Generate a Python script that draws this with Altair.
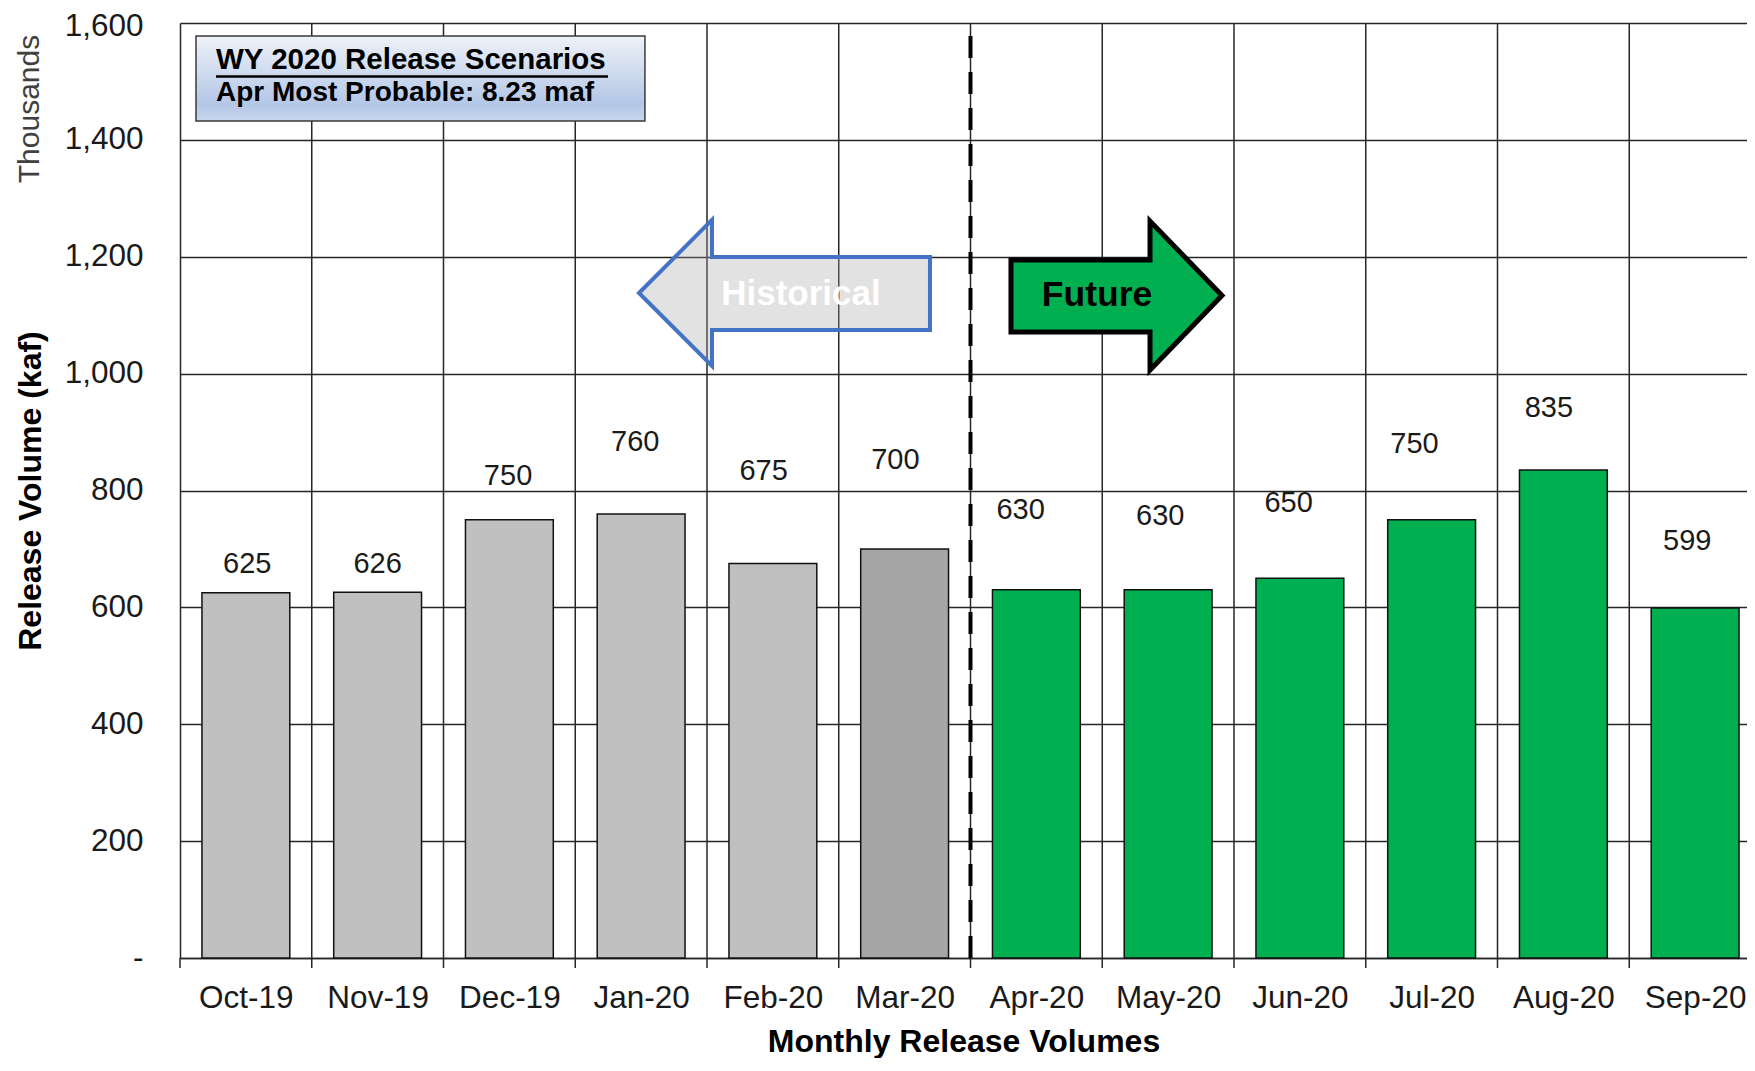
import json
import altair as alt
import pandas as pd

# ---------------- data ----------------
months = ["Oct-19", "Nov-19", "Dec-19", "Jan-20", "Feb-20", "Mar-20",
          "Apr-20", "May-20", "Jun-20", "Jul-20", "Aug-20", "Sep-20"]
volumes = [625, 626, 750, 760, 675, 700, 630, 630, 650, 750, 835, 599]
status = ["Historical"] * 5 + ["Current"] + ["Future"] * 6
# data-label placement as in the source (kaf height, shift in category widths)
label_kaf = [674, 674, 825, 883, 833, 852, 766, 756, 779, 879, 942, 714]
label_shift = [0.01, 0.0, -0.01, -0.045, -0.07, -0.07, -0.12, -0.06, -0.085, -0.13, -0.11, -0.06]
y_ticks = [0, 200, 400, 600, 800, 1000, 1200, 1400, 1600]
box_title = "WY 2020 Release Scenarios"
box_sub = "Apr Most Probable: 8.23 maf"

# ---------------- layout ----------------
PX_PER_CAT = 131.75
PLOT_W = 1567
PLOT_H = 935
X_MAX = PLOT_W / PX_PER_CAT

SANS = "Liberation Sans, Arial, Helvetica"
INK = "#1a1a1a"
GRID = "#262626"

df = pd.DataFrame({"month": months, "kaf": volumes, "status": status,
                   "label_kaf": label_kaf, "shift": label_shift})
df["idx"] = list(range(len(months)))

xs = alt.Scale(domain=[0, X_MAX], nice=False, zero=False)
ys = alt.Scale(domain=[0, 1600], nice=False, zero=True)

x_axis = alt.Axis(
    values=[i + 0.5 for i in range(len(months))],
    labelExpr=f"{json.dumps(months)}[floor(datum.value)]",
    grid=False, ticks=False, tickSize=0, domain=True, domainColor=GRID, domainWidth=1.5,
    labelFont=SANS, labelFontSize=31.5, labelColor=INK, labelPadding=49,
    labelBaseline="alphabetic", labelFlush=False, labelOverlap=False,
    title="Monthly Release Volumes", titleFont=SANS, titleFontSize=32,
    titleFontWeight="bold", titleColor="#000", titleY=93, titleBaseline="alphabetic",
)
y_axis = alt.Axis(
    values=y_ticks,
    labelExpr="datum.value == 0 ? '-' : format(datum.value, ',')",
    grid=True, gridColor=GRID, gridWidth=1.5, ticks=False, tickSize=0,
    domain=True, domainColor=GRID, domainWidth=1.5,
    labelFont=SANS, labelFontSize=31.5, labelColor=INK, labelPadding=37,
    labelOverlap=False,
    labelOffset=alt.condition(f"datum.value == {max(y_ticks)}", alt.value(3), alt.value(0)),
    title="Release Volume (kaf)", titleFont=SANS, titleFontSize=32,
    titleFontWeight="bold", titleColor="#000", titleX=-150, titleY=PLOT_H / 2,
    titleAngle=270, titleBaseline="middle", titleAlign="center",
)


def X(f):
    return alt.X(f, type="quantitative", scale=xs, axis=x_axis)


def Y(f):
    return alt.Y(f, type="quantitative", scale=ys, axis=y_axis)


# vertical gridlines at category boundaries
bounds = pd.DataFrame({"b": list(range(1, len(months)))})
vgrid = alt.Chart(bounds).mark_rule(color=GRID, strokeWidth=1.5).encode(
    x=X("b"), y=alt.datum(0), y2=alt.datum(1600))

bars = alt.Chart(df).transform_calculate(
    x0="datum.idx + 1/6", x1="datum.idx + 5/6"
).mark_rect(stroke="#111", strokeWidth=1.5).encode(
    x=X("x0"),
    x2="x1:Q",
    y=Y("kaf"),
    y2=alt.datum(0),
    color=alt.Color("status:N", legend=None,
                    scale=alt.Scale(domain=["Historical", "Current", "Future"],
                                    range=["#C0C0C0", "#A6A6A6", "#00B050"])),
)

split = pd.DataFrame({"b": [status.index("Future")]})
dash = alt.Chart(split).mark_rule(color="#000", strokeWidth=4, strokeDash=[22, 14]).encode(
    x=X("b"), y=alt.datum(0), y2=alt.datum(1600))

ticks = alt.Chart(pd.DataFrame({"b": list(range(len(months)))})).mark_rule(
    color=GRID, strokeWidth=1.5).encode(
    x=X("b"), y=alt.value(PLOT_H), y2=alt.value(PLOT_H + 10))

# arrows
HIST_PATH = "M -1 0 L -0.498 -0.502 L -0.498 -0.247 L 1 -0.247 L 1 0.254 L -0.498 0.254 L -0.498 0.502 Z"
FUT_PATH = "M -1 -0.336 L 0.318 -0.336 L 0.318 -0.706 L 1 0 L 0.318 0.706 L 0.318 0.346 L -1 0.346 Z"

hist_arrow = alt.Chart(pd.DataFrame({"x": [4.588], "y": [1138]})).mark_point(
    shape=HIST_PATH, size=291 ** 2, filled=True, fill="#A6A6A6", fillOpacity=0.32,
    stroke="#4472C4", strokeOpacity=1, strokeWidth=4, opacity=1, strokeJoin="miter"
).encode(x=X("x"), y=Y("y"))
hist_text = alt.Chart(pd.DataFrame({"x": [4.713], "y": [1136.5], "t": ["Historical"]})).mark_text(
    font=SANS, fontSize=35, fontWeight="bold", color="#ffffff", align="center", baseline="middle"
).encode(x=X("x"), y=Y("y"), text="t:N")

fut_arrow = alt.Chart(pd.DataFrame({"x": [7.108], "y": [1133.6]})).mark_point(
    shape=FUT_PATH, size=211 ** 2, filled=True, fill="#00B050", fillOpacity=1,
    stroke="#000000", strokeOpacity=1, strokeWidth=5, opacity=1, strokeJoin="miter"
).encode(x=X("x"), y=Y("y"))
fut_text = alt.Chart(pd.DataFrame({"x": [6.96], "y": [1134.5], "t": ["Future"]})).mark_text(
    font=SANS, fontSize=35.5, fontWeight="bold", color="#000000", align="center", baseline="middle"
).encode(x=X("x"), y=Y("y"), text="t:N")

# legend-like box
grad = {"gradient": "linear", "x1": 0, "x2": 0, "y1": 0, "y2": 1,
        "stops": [{"offset": 0, "color": "#EEF2F8"},
                  {"offset": 0.8, "color": "#B4C7E7"},
                  {"offset": 1, "color": "#C6D5EC"}]}
box = alt.Chart(pd.DataFrame({"x": [0.1214], "x2": [3.529], "y": [1577.8], "y2": [1432.3]})).mark_rect(
    fill=grad, stroke="#3a3a3a", strokeWidth=1.5
).encode(x=X("x"), x2="x2:Q", y=Y("y"), y2="y2:Q")
box_l1 = alt.Chart(pd.DataFrame({"x": [0.2732], "y": [1536.7], "t": [box_title]})).mark_text(
    font=SANS, fontSize=29.5, fontWeight="bold", color="#000", align="left", baseline="middle"
).encode(x=X("x"), y=Y("y"), text="t:N")
underline = alt.Chart(pd.DataFrame({"x": [0.2732], "x2": [3.2486], "y": [1508.5]})).mark_rule(
    color="#000", strokeWidth=2.5).encode(x=X("x"), x2="x2:Q", y=Y("y"))
box_l2 = alt.Chart(pd.DataFrame({"x": [0.2732], "y": [1480.2], "t": [box_sub]})).mark_text(
    font=SANS, fontSize=28, fontWeight="bold", color="#000", align="left", baseline="middle"
).encode(x=X("x"), y=Y("y"), text="t:N")

labels = alt.Chart(df).transform_calculate(
    lx="datum.idx + 0.5 + datum.shift"
).mark_text(font=SANS, fontSize=29, color=INK, align="center", baseline="middle").encode(
    x=X("lx"), y=Y("label_kaf"), text="kaf:Q")

thousands = alt.Chart(pd.DataFrame({"t": ["Thousands"]})).mark_text(
    font=SANS, fontSize=30, color="#404040", angle=270, align="center", baseline="middle"
).encode(x=alt.value(-150), y=alt.value(86), text="t:N")

chart = alt.layer(
    vgrid, bars, dash, ticks, hist_arrow, hist_text, fut_arrow, fut_text,
    box, box_l1, underline, box_l2, labels, thousands
).properties(
    width=PLOT_W, height=PLOT_H,
    autosize=alt.AutoSizeParams(type="none"),
    padding={"left": 172, "top": 15, "right": 0, "bottom": 100},
    background="white",
).configure_view(stroke=None)

chart.save("out.html", embed_options={"renderer": "svg", "actions": False})
